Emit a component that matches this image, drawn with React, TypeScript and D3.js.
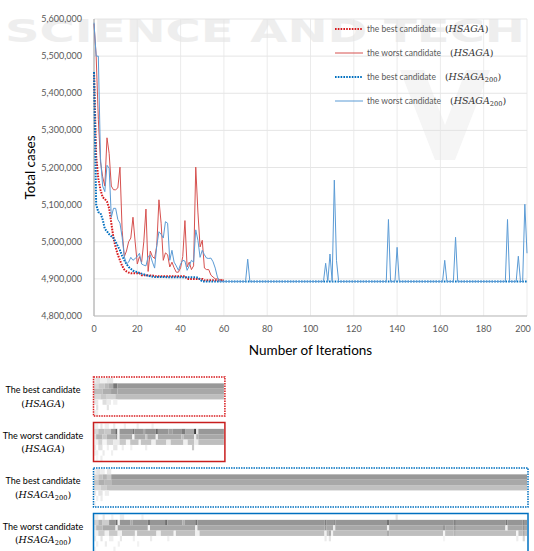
import * as d3 from "d3"

// iteration / total cases readings, linear between listed points
const bestHsaga: [number, number][] = [
  [0, 5457000], [1, 5230000], [2, 5170000], [3, 5140000], [4, 5120000], [5, 5115000],
  [6, 5108000], [7, 5090000], [8, 5050000], [9, 5010000], [10, 4985000], [11, 4965000],
  [12, 4950000], [13, 4935000], [14, 4925000], [15, 4920000], [16, 4917000], [17, 4915000],
  [21, 4915000], [22, 4910000], [27, 4909000], [28, 4907000], [42, 4907000], [43, 4900000],
  [50, 4900000], [51, 4896000], [60, 4896000],
]

const worstHsaga: [number, number][] = [
  [0, 5587000], [1, 5500000], [2, 5330000], [3, 5215000], [4, 5175000], [5, 5150000],
  [6, 5280000], [7, 5238000], [8, 5150000], [9, 5140000], [10, 5140000], [11, 5145000],
  [12, 5201000], [13, 5030000], [14, 4960000], [15, 4975000], [16, 5000000], [17, 5010000],
  [18, 5066000], [19, 5000000], [20, 4940000], [21, 4960000], [22, 4945000], [23, 5000000],
  [24, 5088000], [25, 4920000], [26, 4975000], [27, 4960000], [28, 4955000], [29, 4990000],
  [30, 5113000], [31, 5050000], [32, 4950000], [33, 4970000], [34, 4965000], [35, 4932000],
  [36, 4945000], [37, 4930000], [38, 4918000], [39, 4918000], [40, 4930000], [41, 4960000],
  [42, 5057000], [43, 4932000], [44, 4945000], [45, 4925000], [46, 4935000], [47, 5201000],
  [48, 5080000], [49, 4986000], [50, 5004000], [51, 4929000], [52, 4925000], [53, 4925000],
  [54, 4910000], [55, 4905000], [56, 4900000], [57, 4900000], [58, 4898000], [59, 4897000],
  [60, 4896000],
]

const bestHsaga200: [number, number][] = [
  [0, 5457000], [1, 5100000], [2, 5080000], [3, 5077000], [4, 5060000], [5, 5035000],
  [6, 5028000], [7, 5020000], [8, 5015000], [9, 5010000], [10, 5000000], [11, 4988000],
  [12, 4977000], [13, 4962000], [14, 4950000], [15, 4940000], [16, 4932000], [17, 4927000],
  [18, 4922000], [19, 4920000], [20, 4918000], [22, 4914000], [24, 4910000], [26, 4907000],
  [28, 4905000], [48, 4904000], [50, 4893000], [200, 4893000],
]

const worstHsaga200: [number, number][] = [
  [0, 5590000], [1, 5500000], [2, 5500000], [3, 5225000], [4, 5150000], [5, 5135000],
  [6, 5206000], [7, 5198000], [8, 5066000], [9, 5090000], [10, 5090000], [11, 5060000],
  [12, 5050000], [13, 5012000], [14, 4960000], [15, 4940000], [16, 4945000], [17, 4958000],
  [18, 4950000], [19, 4955000], [20, 4960000], [21, 4969000], [22, 4940000], [23, 4937000],
  [24, 4935000], [25, 4960000], [26, 4964000], [27, 4945000], [28, 4929000], [29, 4990000],
  [30, 5027000], [31, 5020000], [32, 5010000], [33, 5054000], [34, 5050000], [35, 4950000],
  [36, 4977000], [37, 4945000], [38, 4935000], [39, 4923000], [40, 4940000], [41, 4950000],
  [42, 4948000], [43, 4923000], [44, 4935000], [45, 4950000], [46, 4945000], [47, 5032000],
  [48, 5004000], [49, 4958000], [50, 4977000], [51, 4965000], [52, 4956000], [53, 4955000],
  [54, 4956000], [55, 4946000], [56, 4929000], [57, 4905000], [58, 4893000], [70, 4893000],
  [71, 4953000], [72, 4893000], [106, 4893000], [107, 4942000], [108, 4893000], [109, 4967000],
  [110, 4893000], [111, 5166000], [112, 4950000], [113, 4893000], [135, 4893000], [136, 5060000],
  [137, 4893000], [139, 4893000], [140, 4985000], [141, 4893000], [161, 4893000], [162, 4950000],
  [163, 4893000], [166, 4893000], [167, 5012000], [168, 4893000], [190, 4893000], [191, 5060000],
  [192, 4893000], [195, 4893000], [196, 4961000], [197, 4893000], [198, 4893000], [199, 5101000],
  [200, 4969000],
]

const yTicks = [4800000, 4900000, 5000000, 5100000, 5200000, 5300000, 5400000, 5500000, 5600000]
const xTicks = [0, 20, 40, 60, 80, 100, 120, 140, 160, 180, 200]

const legendLabels = ["the best candidate", "the worst candidate", "the best candidate", "the worst candidate"]

// heatmap cells: [row, first iteration, last iteration, grey level]
type Run = [number, number, number, number]

const bestHsagaCells: Run[] = [
  [0, 0, 0, 235], [0, 1, 2, 225], [0, 3, 5, 240], [0, 6, 8, 230],
  [1, 0, 1, 215], [1, 2, 4, 200], [1, 5, 6, 185], [1, 7, 8, 170], [1, 9, 10, 120], [1, 11, 60, 152],
  [2, 0, 3, 190], [2, 4, 7, 175], [2, 8, 10, 160], [2, 11, 60, 168],
  [3, 0, 2, 215], [3, 3, 5, 200], [3, 6, 9, 210], [3, 10, 60, 190],
  [4, 0, 1, 232], [4, 4, 5, 222], [4, 6, 7, 236], [4, 9, 10, 240],
  [5, 1, 1, 225], [5, 6, 6, 228],
  [6, 0, 1, 238],
]

const worstHsagaCells: Run[] = [
  [0, 0, 1, 238], [0, 3, 3, 230], [0, 5, 6, 240], [0, 9, 9, 235], [0, 14, 14, 240], [0, 20, 20, 238], [0, 27, 27, 240],
  [1, 0, 1, 215], [1, 2, 4, 190], [1, 5, 7, 200], [1, 8, 9, 155], [1, 10, 10, 105], [1, 11, 11, 245],
  [1, 12, 17, 152], [1, 18, 18, 120], [1, 19, 22, 150], [1, 23, 23, 170], [1, 24, 28, 148], [1, 29, 29, 105],
  [1, 30, 34, 150], [1, 35, 36, 160], [1, 37, 40, 150], [1, 41, 42, 125], [1, 43, 46, 168], [1, 47, 47, 60],
  [1, 48, 48, 230], [1, 49, 60, 152],
  [2, 0, 0, 225], [2, 1, 3, 180], [2, 4, 5, 200], [2, 6, 9, 175], [2, 10, 10, 150], [2, 11, 11, 240],
  [2, 12, 17, 168], [2, 18, 18, 245], [2, 19, 23, 170], [2, 24, 24, 200], [2, 25, 28, 168], [2, 29, 29, 240],
  [2, 30, 40, 170], [2, 41, 41, 190], [2, 42, 46, 172], [2, 47, 47, 235], [2, 48, 48, 180], [2, 49, 60, 168],
  [3, 0, 1, 240], [3, 2, 3, 210], [3, 4, 5, 245], [3, 6, 8, 215], [3, 9, 11, 235], [3, 12, 14, 200],
  [3, 15, 16, 245], [3, 17, 20, 195], [3, 21, 21, 245], [3, 22, 26, 195], [3, 27, 28, 240], [3, 29, 33, 195],
  [3, 34, 35, 235], [3, 36, 41, 192], [3, 42, 43, 240], [3, 44, 46, 195], [3, 47, 48, 235], [3, 49, 60, 190],
  [4, 0, 0, 235], [4, 2, 3, 225], [4, 6, 6, 240], [4, 9, 10, 230], [4, 13, 13, 238], [4, 17, 17, 240],
  [4, 24, 24, 238], [4, 46, 46, 200],
  [5, 0, 1, 240], [5, 4, 4, 235], [5, 8, 8, 240],
  [6, 1, 1, 245], [6, 3, 3, 238],
]

const bestHsaga200Cells: Run[] = [
  [0, 0, 0, 240], [0, 1, 2, 228], [0, 3, 4, 238], [0, 6, 7, 232],
  [1, 0, 1, 215], [1, 2, 3, 195], [1, 4, 5, 180], [1, 6, 7, 200], [1, 8, 200, 152],
  [2, 0, 1, 200], [2, 2, 4, 175], [2, 5, 7, 185], [2, 8, 200, 168],
  [3, 0, 2, 220], [3, 3, 5, 205], [3, 6, 200, 192],
  [4, 0, 0, 235], [4, 2, 3, 228], [4, 5, 6, 238],
  [5, 1, 1, 240], [5, 3, 3, 235],
  [6, 0, 0, 245],
]

const worstHsaga200Cells: Run[] = [
  [0, 0, 1, 238], [0, 4, 4, 232], [0, 8, 8, 240], [0, 12, 13, 236], [0, 22, 22, 240], [0, 140, 140, 225],
  [1, 0, 1, 210], [1, 2, 3, 180], [1, 4, 6, 205], [1, 7, 9, 150], [1, 10, 10, 110], [1, 11, 11, 240],
  [1, 12, 16, 150], [1, 17, 17, 170], [1, 18, 24, 152], [1, 25, 25, 120], [1, 26, 32, 150], [1, 33, 33, 110],
  [1, 34, 40, 155], [1, 41, 41, 175], [1, 42, 46, 150], [1, 47, 47, 115], [1, 48, 106, 150], [1, 107, 107, 125],
  [1, 108, 110, 150], [1, 111, 111, 140], [1, 112, 135, 150], [1, 136, 136, 115], [1, 137, 166, 150],
  [1, 167, 167, 130], [1, 168, 190, 150], [1, 191, 191, 120], [1, 192, 198, 150], [1, 199, 199, 135], [1, 200, 200, 150],
  [2, 0, 0, 225], [2, 1, 3, 185], [2, 4, 9, 170], [2, 10, 10, 235], [2, 11, 24, 168], [2, 25, 25, 245],
  [2, 26, 46, 168], [2, 47, 47, 240], [2, 48, 106, 168], [2, 107, 107, 150], [2, 108, 110, 168], [2, 111, 111, 235],
  [2, 112, 135, 168], [2, 136, 136, 240], [2, 137, 161, 168], [2, 162, 162, 150], [2, 163, 166, 168],
  [2, 167, 167, 150], [2, 168, 190, 168], [2, 191, 191, 240], [2, 192, 198, 168], [2, 199, 199, 150], [2, 200, 200, 168],
  [3, 0, 1, 240], [3, 2, 4, 205], [3, 5, 6, 240], [3, 7, 10, 200], [3, 11, 12, 240], [3, 13, 18, 195],
  [3, 19, 19, 245], [3, 20, 28, 192], [3, 29, 30, 240], [3, 31, 36, 195], [3, 37, 37, 245], [3, 38, 46, 192],
  [3, 47, 48, 240], [3, 49, 106, 190], [3, 107, 107, 240], [3, 108, 108, 190], [3, 109, 109, 170], [3, 110, 110, 240],
  [3, 111, 135, 190], [3, 136, 136, 170], [3, 137, 161, 190], [3, 162, 162, 245], [3, 163, 166, 190],
  [3, 167, 167, 180], [3, 168, 195, 190], [3, 196, 196, 245], [3, 197, 198, 190], [3, 199, 199, 170], [3, 200, 200, 190],
  [4, 0, 0, 235], [4, 3, 3, 228], [4, 7, 8, 238], [4, 12, 12, 232], [4, 18, 18, 240], [4, 26, 26, 236],
  [4, 34, 34, 240], [4, 107, 107, 235], [4, 109, 109, 230], [4, 162, 162, 245], [4, 196, 196, 238], [4, 199, 199, 215],
  [5, 1, 1, 240], [5, 5, 5, 236], [5, 11, 11, 240], [5, 20, 20, 242],
  [6, 0, 0, 245], [6, 9, 9, 240],
]

const RED = "#d7191c"
const RED_LINE = "#d6514f"
const BLUE = "#0070c0"
const BLUE_LINE = "#5b9bd5"
const FONT = "Lato, 'Open Sans', sans-serif"
const MATH = "'DejaVu Serif', 'Liberation Serif', serif"

function MathLabel({ sub }: { sub: boolean }) {
  return (
    <>
      <tspan fontFamily={MATH}>(</tspan>
      <tspan fontFamily={MATH} fontStyle="italic">HSAGA</tspan>
      {sub && <tspan fontFamily={MATH} fontSize="0.7em" dy="2">200</tspan>}
      <tspan fontFamily={MATH} dy={sub ? -2 : 0}>)</tspan>
    </>
  )
}

export default function App() {
  const width = 534
  const height = 551
  const x = d3.scaleLinear().domain([0, 200]).range([94, 527])
  const y = d3.scaleLinear().domain([4800000, 5600000]).range([316, 19])
  const line = d3.line<[number, number]>().x((d) => x(d[0])).y((d) => y(d[1]))
  const fmt = d3.format(",")

  const series = [
    { data: bestHsaga, color: RED, dash: "1.6 1.2", w: 2, sub: false },
    { data: worstHsaga, color: RED_LINE, dash: undefined, w: 1, sub: false },
    { data: bestHsaga200, color: BLUE, dash: "1.6 1.2", w: 2, sub: true },
    { data: worstHsaga200, color: BLUE_LINE, dash: undefined, w: 1, sub: true },
  ]

  const panels = [
    { title: "The best candidate", cells: bestHsagaCells, iters: 60, top: 377, color: RED, dash: "1.5 1", sub: false },
    { title: "The worst candidate", cells: worstHsagaCells, iters: 60, top: 422.5, color: "#c81e1e", dash: undefined, sub: false },
    { title: "The best candidate", cells: bestHsaga200Cells, iters: 200, top: 468, color: BLUE, dash: "1.5 1", sub: true },
    { title: "The worst candidate", cells: worstHsaga200Cells, iters: 200, top: 513.5, color: BLUE, dash: undefined, sub: true },
  ]
  const boxH = 39

  return (
    <svg width={width} height={height} style={{ position: "absolute", left: 0, top: 0 }} fontFamily={FONT}>
      <rect width={width} height={height} fill="#fff" />
      {/* faint publisher watermark */}
      <text transform="translate(5,42) scale(1.5,1)" fontSize={32} fontWeight="bold" fill="#eeeeee"
        fontFamily="'DejaVu Sans', sans-serif">SCIENCE AND TECH</text>
      <path d="M400,70 L424,70 L445,125 L466,70 L490,70 L455,160 L435,160 Z" fill="#f5f5f5" />

      {/* grid */}
      {yTicks.map((t) => (
        <line key={"gy" + t} x1={x(0)} x2={x(200)} y1={y(t)} y2={y(t)} stroke="#dedede" strokeWidth={0.8} />
      ))}
      {xTicks.slice(1).map((t) => (
        <line key={"gx" + t} x1={x(t)} x2={x(t)} y1={y(5600000)} y2={y(4800000)} stroke="#e6e6e6" strokeWidth={0.8} />
      ))}
      <line x1={x(0)} x2={x(0)} y1={y(5600000)} y2={y(4800000)} stroke="#9a9a9a" strokeWidth={1} />
      <line x1={x(0)} x2={x(200)} y1={y(4800000)} y2={y(4800000)} stroke="#bfbfbf" strokeWidth={1} />

      {/* tick labels */}
      {yTicks.map((t) => (
        <text key={"ty" + t} x={82} y={y(t) + 3} textAnchor="end" fontSize={9} fill="#595959">{fmt(t)}</text>
      ))}
      {xTicks.map((t) => (
        <text key={"tx" + t} x={Math.min(x(t), 523)} y={332} textAnchor="middle" fontSize={9} fill="#595959">{t}</text>
      ))}
      <text transform={`translate(35,${(y(5600000) + y(4800000)) / 2}) rotate(-90)`} textAnchor="middle" fontSize={13.5} fill="#000">Total cases</text>
      <text x={(x(0) + x(200)) / 2} y={355} textAnchor="middle" fontSize={13.5} fill="#000">Number of Iterations</text>

      {/* series */}
      {series.map((s, i) => (
        <path key={"s" + i} d={line(s.data) || ""} fill="none" stroke={s.color} strokeWidth={s.w}
          strokeDasharray={s.dash} strokeLinejoin="round" />
      ))}

      {/* legend */}
      {series.map((s, i) => {
        const cy = 29 + i * 24
        return (
          <g key={"lg" + i}>
            <line x1={335} x2={363} y1={cy} y2={cy} stroke={s.color} strokeWidth={s.w} strokeDasharray={s.dash} />
            <text x={367} y={cy + 3} fontSize={8.5} fill="#595959">
              {legendLabels[i]}
              <tspan dx={9} fontSize={9.5} fill="#333"><MathLabel sub={s.sub} /></tspan>
            </text>
          </g>
        )
      })}

      {/* heatmaps */}
      {panels.map((p, i) => {
        const cols = d3.scaleBand<number>().domain(d3.range(p.iters + 1)).range([x(0), x(p.iters)])
        const rows = d3.scaleBand<number>().domain(d3.range(7)).range([p.top + 1, p.top + boxH - 0.5])
        const mid = p.top + boxH / 2
        return (
          <g key={"hm" + i}>
            {p.cells.map(([r, a, b, g], j) => (
              <rect key={j} x={cols(a)} y={rows(r)} width={(cols(b) || 0) + cols.bandwidth() - (cols(a) || 0)}
                height={rows.bandwidth()} fill={d3.rgb(g, g, g).toString()} />
            ))}
            <rect x={x(0) - 0.5} y={p.top} width={x(p.iters) - x(0) + 1.5} height={boxH} fill="none"
              stroke={p.color} strokeWidth={1.5} strokeDasharray={p.dash} />
            <text x={43} y={mid - 3.5} textAnchor="middle" fontSize={9} fill="#000">{p.title}</text>
            <text x={43} y={mid + 10} textAnchor="middle" fontSize={9.5} fill="#000"><MathLabel sub={p.sub} /></text>
          </g>
        )
      })}
    </svg>
  )
}
